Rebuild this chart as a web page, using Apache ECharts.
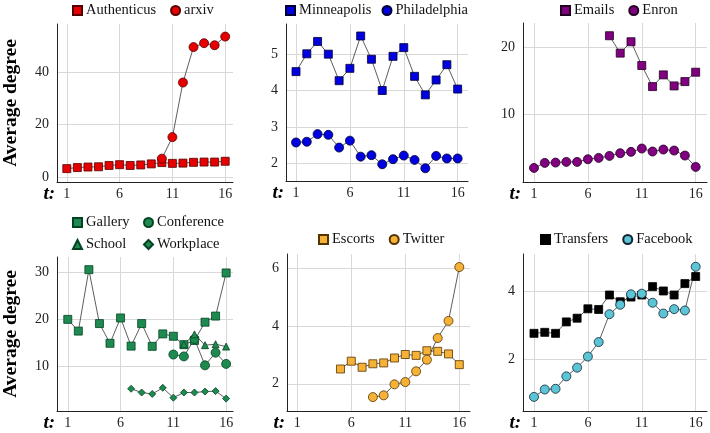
<!DOCTYPE html>
<html>
<head>
<meta charset="utf-8">
<script src="https://cdn.jsdelivr.net/npm/echarts@6/dist/echarts.min.js"></script>
<style>
  html, body { margin: 0; padding: 0; background: #fff; }
  #chart { width: 710px; height: 433px; }
</style>
</head>
<body>
<div id="chart"></div>
<script>
// time steps
var t = [1, 2, 3, 4, 5, 6, 7, 8, 9, 10, 11, 12, 13, 14, 15, 16];
var xTicks = [1, 6, 11, 16];
var _ = null;

// panel 1
var authenticus = [3.2, 3.6, 3.8, 3.9, 4.4, 4.7, 4.4, 4.6, 5.0, 5.5, 5.2, 5.3, 5.6, 5.7, 5.7, 6.0];
var arxiv = [_, _, _, _, _, _, _, _, _, 7.0, 15.2, 36, 49.5, 51, 50.2, 53.5];
// panel 2
var minneapolis = [4.52, 5.01, 5.35, 5.0, 4.27, 4.61, 5.5, 4.86, 4.0, 4.94, 5.18, 4.39, 3.88, 4.29, 4.71, 4.04];
var philadelphia = [2.57, 2.59, 2.8, 2.78, 2.43, 2.62, 2.18, 2.22, 1.97, 2.11, 2.21, 2.09, 1.86, 2.2, 2.13, 2.13];
// panel 3
var emails = [_, _, _, _, _, _, _, 21.7, 19.1, 20.8, 17.25, 14.1, 15.85, 14.2, 14.85, 16.25];
var enron = [1.95, 2.7, 2.75, 2.85, 2.85, 3.25, 3.45, 3.75, 4.15, 4.35, 4.85, 4.4, 4.7, 4.55, 3.8, 2.1];
// panel 4
var gallery = [20.0, 17.5, 30.6, 19.1, 14.9, 20.3, 14.3, 19.1, 14.25, 16.9, 16.4, 14.6, 15.5, 19.4, 20.7, 29.9];
var conference = [_, _, _, _, _, _, _, _, _, _, 12.5, 12.1, 15.8, 10.2, 12.9, 10.5];
var school = [_, _, _, _, _, _, _, _, _, _, _, 14.7, 16.8, 14.5, 14.7, 14.2];
var workplace = [_, _, _, _, _, _, 5.2, 4.4, 4.1, 5.4, 3.3, 4.4, 4.4, 4.6, 4.7, 3.1];
// panel 5
var escorts = [_, _, _, _, 2.51, 2.78, 2.57, 2.69, 2.72, 2.89, 3.01, 2.98, 3.14, 3.12, 3.03, 2.66];
var twitter = [_, _, _, _, _, _, _, 1.54, 1.6, 1.98, 2.06, 2.43, 2.83, 3.58, 4.17, 6.03];
// panel 6
var transfers = [2.76, 2.79, 2.76, 3.1, 3.21, 3.49, 3.47, 3.9, 3.7, 3.84, 3.9, 4.15, 4.02, 3.9, 4.24, 4.45];
var facebook = [0.87, 1.09, 1.11, 1.48, 1.74, 2.07, 2.5, 3.33, 3.61, 3.92, 3.94, 3.67, 3.35, 3.48, 3.44, 4.74];

// y tick labels per panel
var yTicks = [[0, 20, 40], [2, 3, 4, 5], [10, 20], [10, 20, 30], [2, 4, 6], [2, 4]];

var FONT = '"Liberation Serif", "DejaVu Serif", serif';

var panels = [
    {left: 53, top: 24, width: 180, height: 158, xmin: 0.07, xmax: 16.74, ymin: -1.9, ymax: 58.3, ylabel: true},
    {left: 286, top: 24, width: 182, height: 157, xmin: 0.07, xmax: 16.96, ymin: 1.51, ymax: 5.83},
    {left: 523, top: 23, width: 184, height: 159, xmin: -0.02, xmax: 17.05, ymin: -0.15, ymax: 23.6},
    {left: 53, top: 257, width: 180, height: 156, xmin: -0.02, xmax: 16.65, ymin: 0.46, ymax: 33.3, ylabel: true},
    {left: 287, top: 254, width: 183, height: 158, xmin: 0.05, xmax: 16.99, ymin: 1.06, ymax: 6.48},
    {left: 523, top: 254, width: 184, height: 158, xmin: -0.02, xmax: 17.05, ymin: 0.45, ymax: 5.12}
];

var grids = [], xAxes = [], yAxes = [];
panels.forEach(function (p, i) {
    grids.push({left: p.left, top: p.top, width: p.width, height: p.height});
    xAxes.push({
        type: 'value', gridIndex: i, min: p.xmin, max: p.xmax,
        name: 't:', nameLocation: 'start', nameGap: 2,
        nameTextStyle: {fontFamily: FONT, fontSize: 19, fontWeight: 'bold', fontStyle: 'italic',
            color: '#000', verticalAlign: 'top', padding: [3, 0, 0, 0]},
        axisLine: {show: true, onZero: false, lineStyle: {color: '#222', width: 1}},
        axisTick: {show: false, customValues: xTicks},
        axisLabel: {customValues: xTicks, fontFamily: FONT, fontSize: 14, color: '#222', margin: 5},
        splitLine: {show: true, lineStyle: {color: '#d8d8d8', width: 1}}
    });
    yAxes.push({
        type: 'value', gridIndex: i, min: p.ymin, max: p.ymax,
        name: p.ylabel ? 'Average degree' : '', nameLocation: 'middle', nameGap: 36,
        nameTextStyle: {fontFamily: FONT, fontSize: 19.5, fontWeight: 'bold', color: '#000'},
        axisLine: {show: true, onZero: false, lineStyle: {color: '#222', width: 1}},
        axisTick: {show: false, customValues: yTicks[i]},
        axisLabel: {customValues: yTicks[i], fontFamily: FONT, fontSize: 14, color: '#222', margin: 8},
        splitLine: {show: true, lineStyle: {color: '#d8d8d8', width: 1}}
    });
});

function pairs(vals) {
    return t.map(function (x, i) { return [x, vals[i]]; })
        .filter(function (d) { return d[1] !== null; });
}

function mk(name, vals, idx, symbol, size, color, border) {
    return {
        name: name, type: 'line', xAxisIndex: idx, yAxisIndex: idx,
        data: pairs(vals), symbol: symbol, symbolSize: size,
        showAllSymbol: true, animation: false,
        lineStyle: {color: '#333', width: 0.8},
        itemStyle: {color: color, borderColor: border || '#222', borderWidth: 0.8}
    };
}

var RED = '#e60000', BLUE = '#0000e0', PURPLE = '#800080', GREEN = '#1f8a50',
    ORANGE = '#f5b236', CYAN = '#5bc5d5', BLACK = '#000';

var series = [
    mk('Authenticus', authenticus, 0, 'rect', 8, RED, '#500'),
    mk('arxiv', arxiv, 0, 'circle', 9, RED, '#500'),
    mk('Minneapolis', minneapolis, 1, 'rect', 8, BLUE, '#003'),
    mk('Philadelphia', philadelphia, 1, 'circle', 9, BLUE, '#003'),
    mk('Emails', emails, 2, 'rect', 8, PURPLE, '#202'),
    mk('Enron', enron, 2, 'circle', 9, PURPLE, '#202'),
    mk('Gallery', gallery, 3, 'rect', 8, GREEN, '#042'),
    mk('Conference', conference, 3, 'circle', 9, GREEN, '#042'),
    mk('School', school, 3, 'triangle', 7, GREEN, '#042'),
    mk('Workplace', workplace, 3, 'diamond', 7, GREEN, '#042'),
    mk('Escorts', escorts, 4, 'rect', 8, ORANGE, '#553300'),
    mk('Twitter', twitter, 4, 'circle', 9, ORANGE, '#553300'),
    mk('Transfers', transfers, 5, 'rect', 8, BLACK, '#000'),
    mk('Facebook', facebook, 5, 'circle', 9, CYAN, '#123')
];

function legend(items, left, top, extra) {
    var l = {
        left: left, top: top, padding: 0, itemGap: 14, itemWidth: 9, itemHeight: 9,
        selectedMode: false,
        textStyle: {fontFamily: FONT, fontSize: 14.5, color: '#111', padding: [0, 0, 0, -1]},
        data: items
    };
    if (extra) for (var k in extra) l[k] = extra[k];
    return l;
}

var chart = echarts.init(document.getElementById('chart'), null, {renderer: 'canvas'});
chart.setOption({
    animation: false,
    grid: grids,
    xAxis: xAxes,
    yAxis: yAxes,
    legend: [
        legend([{name: 'Authenticus', icon: 'rect'}, {name: 'arxiv', icon: 'circle'}], 72, 3),
        legend([{name: 'Minneapolis', icon: 'rect'}, {name: 'Philadelphia', icon: 'circle'}], 285, 3, {itemGap: 10}),
        legend([{name: 'Emails', icon: 'rect'}, {name: 'Enron', icon: 'circle'}], 560, 3),
        legend([{name: 'Gallery', icon: 'rect'}, {name: 'School', icon: 'triangle'}], 72, 215,
            {orient: 'vertical', itemGap: 7}),
        legend([{name: 'Conference', icon: 'circle'}, {name: 'Workplace', icon: 'diamond'}], 143, 215,
            {orient: 'vertical', itemGap: 7}),
        legend([{name: 'Escorts', icon: 'rect'}, {name: 'Twitter', icon: 'circle'}], 318, 232),
        legend([{name: 'Transfers', icon: 'rect'}, {name: 'Facebook', icon: 'circle'}], 540, 232)
    ],
    series: series
});
</script>
</body>
</html>
